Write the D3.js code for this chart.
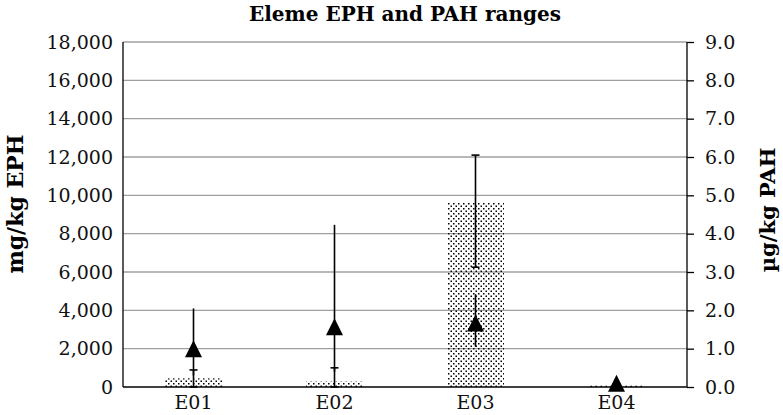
<!DOCTYPE html>
<html>
<head>
<meta charset="utf-8">
<script src="https://cdn.jsdelivr.net/npm/d3@7"></script>
<style>
  html, body { margin: 0; padding: 0; background: #fff; }
  svg { display: block; font-family: "DejaVu Serif", serif; }
</style>
</head>
<body>
<svg id="chart" width="783" height="415"></svg>
<script>
// ---- data ----
const categories = ["E01", "E02", "E03", "E04"];
const ephValue = [450, 280, 9600, 80];          // mg/kg EPH (bars, left axis)
const ephMin   = [0, 0, 6250, null];
const ephMax   = [890, 1000, 12100, null];
const pahValue = [1.0, 1.57, 1.67, 0.1];        // µg/kg PAH (triangles, right axis)
const pahMin   = [0.3, 0.4, 1.05, null];
const pahMax   = [2.05, 4.23, 2.42, null];
const leftTicks  = [0, 2000, 4000, 6000, 8000, 10000, 12000, 14000, 16000, 18000];
const rightTicks = [0, 1, 2, 3, 4, 5, 6, 7, 8, 9];

const svg = d3.select("#chart");
const L = 123, R = 687, T = 42, B = 387;

const x = d3.scaleBand().domain(categories).range([L, R]).padding(0);
const yL = d3.scaleLinear().domain([0, 18000]).range([B, T]);
const yR = d3.scaleLinear().domain([0, 9]).range([B, T]);
const barW = x.bandwidth() * 0.404;

// pattern
const defs = svg.append("defs");
const pat = defs.append("pattern").attr("id", "dots")
  .attr("patternUnits", "userSpaceOnUse").attr("width", 5).attr("height", 5);
pat.append("rect").attr("x", 0.5).attr("y", 0.5).attr("width", 1.5).attr("height", 1.5).attr("fill", "#000");
pat.append("rect").attr("x", 3).attr("y", 3).attr("width", 1.5).attr("height", 1.5).attr("fill", "#000");

// gridlines
svg.append("g").selectAll("line").data(leftTicks.filter(d => d > 0)).join("line")
  .attr("x1", L).attr("x2", R)
  .attr("y1", d => yL(d)).attr("y2", d => yL(d))
  .attr("stroke", "#a0a0a0").attr("stroke-width", 1.3);

// bars
svg.append("g").selectAll("rect").data(categories).join("rect")
  .attr("x", d => x(d) + x.bandwidth() / 2 - barW / 2)
  .attr("width", barW)
  .attr("y", (d, i) => yL(ephValue[i]))
  .attr("height", (d, i) => B - yL(ephValue[i]))
  .attr("fill", "url(#dots)");

// EPH error bars (with caps)
const eg = svg.append("g").attr("stroke", "#000").attr("stroke-width", 1.6);
categories.forEach((c, i) => {
  if (ephMin[i] == null) return;
  const cx = x(c) + x.bandwidth() / 2;
  eg.append("line").attr("x1", cx).attr("x2", cx).attr("y1", yL(ephMin[i])).attr("y2", yL(ephMax[i]));
  [ephMin[i], ephMax[i]].forEach(v => {
    eg.append("line").attr("x1", cx - 4).attr("x2", cx + 4).attr("y1", yL(v)).attr("y2", yL(v));
  });
});

// PAH error bars (no caps)
const pg = svg.append("g").attr("stroke", "#000").attr("stroke-width", 1.6);
categories.forEach((c, i) => {
  if (pahMin[i] == null) return;
  const cx = x(c) + x.bandwidth() / 2;
  pg.append("line").attr("x1", cx).attr("x2", cx).attr("y1", yR(pahMin[i])).attr("y2", yR(pahMax[i]));
});

// axes
const axL = svg.append("g").attr("transform", `translate(${L},0)`)
  .call(d3.axisLeft(yL).tickValues(leftTicks).tickSize(0).tickPadding(10).tickFormat(d3.format(",")));
const axR = svg.append("g").attr("transform", `translate(${R},0)`)
  .call(d3.axisRight(yR).tickValues(rightTicks).tickSize(7).tickPadding(11).tickFormat(d3.format(".1f")));
const axB = svg.append("g").attr("transform", `translate(0,${B})`)
  .call(d3.axisBottom(x).tickSize(0).tickPadding(9));
[axL, axR, axB].forEach(a => {
  a.select(".domain").attr("stroke", "#000").attr("stroke-width", 1.3);
  a.selectAll(".tick line").attr("stroke", "#000").attr("stroke-width", 1.3);
  a.selectAll("text").attr("font-family", "DejaVu Serif").attr("font-size", 19).attr("fill", "#111");
});
axL.select(".domain").attr("d", `M0,${T}V${B}`);
axR.select(".domain").attr("d", `M0,${T}V${B}`);
axB.select(".domain").attr("d", `M${L},0H${R}`);
axB.selectAll("text").attr("dy", "0.71em");

// triangles
svg.append("g").selectAll("path").data(categories).join("path")
  .attr("d", (d, i) => {
    const cx = x(d) + x.bandwidth() / 2, cy = yR(pahValue[i]);
    return `M${cx},${cy - 8.5}L${cx + 8.5},${cy + 8.5}L${cx - 8.5},${cy + 8.5}Z`;
  })
  .attr("fill", "#000");

// titles
svg.append("text").attr("x", 405).attr("y", 21).attr("text-anchor", "middle")
  .attr("font-weight", "bold").attr("font-size", 20).text("Eleme EPH and PAH ranges");
svg.append("text").attr("transform", "translate(23,204) rotate(-90)").attr("text-anchor", "middle")
  .attr("font-weight", "bold").attr("font-size", 22).text("mg/kg EPH");
svg.append("text").attr("transform", "translate(775,210) rotate(-90)").attr("text-anchor", "middle")
  .attr("font-weight", "bold").attr("font-size", 21).text("µg/kg PAH");
</script>
</body>
</html>
